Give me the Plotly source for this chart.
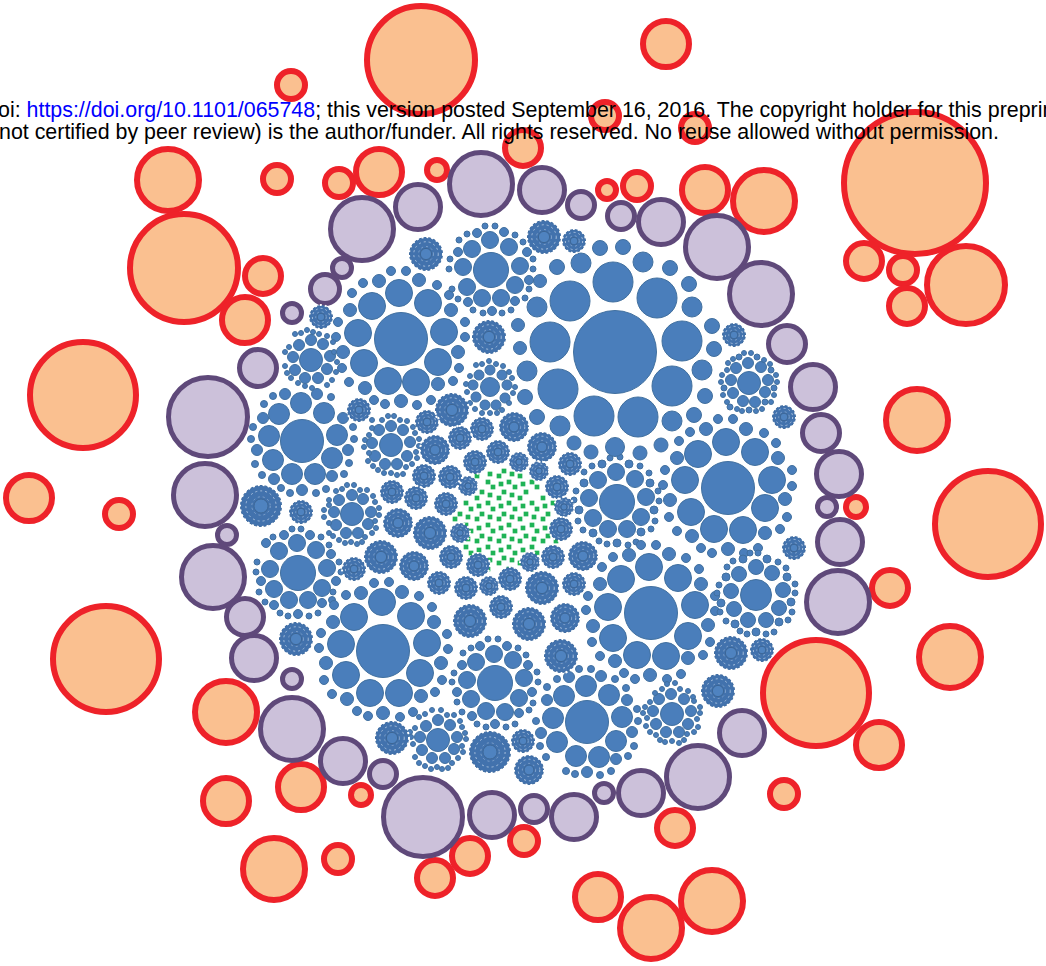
import plotly.graph_objects as go

# (x, y, outer radius), in image pixels
orange = [(421,60,57),(666,44,26),(291,85,17),(605,116,17),(695,128,17),(523,148,21),(168,180,34),(277,179,17),
 (339,183,17),(379,172,26),(437,170,13),(607,190,12),(637,186,17),(705,190,26),(764,201,34),(915,183,74),
 (864,261,21),(903,270,17),(966,285,42),(907,306,21),(263,276,21),(184,268,57),(245,320,26),(83,395,56),
 (917,420,34),(29,498,26),(119,514,17),(988,524,56),(856,507,13),(890,588,21),(106,659,56),(950,657,34),
 (816,693,56),(879,745,26),(784,794,17),(226,712,34),(301,787,26),(226,801,26),(361,795,13),(274,869,34),
 (338,859,17),(470,856,21),(435,878,21),(524,841,17),(675,828,21),(598,897,26),(651,928,34),(712,901,34)]
purple = [(362,229,34),(418,207,25),(481,184,34),(542,190,25),(581,205,16),(621,216,16),(661,222,25),(717,247,34),
 (761,294,34),(787,344,21),(813,387,25),(821,433,21),(839,474,25),(827,507,12),(840,542,25),(838,602,34),
 (742,733,25),(698,777,34),(641,793,25),(604,793,12),(574,817,25),(534,809,16),(492,815,25),(423,817,42),
 (383,774,16),(343,761,25),(292,729,34),(292,679,12),(254,658,25),(245,617,21),(213,577,34),(227,535,12),
 (205,495,34),(208,417,42),(258,368,21),(292,313,12),(325,289,17),(342,268,12)]

cluster_a = [(401,339,27),(358,333,14),(372,306,14),(399,293,14),(428,303,14),(444,332,14),(438,362,14),(416,382,14),(388,381,14),(364,363,14),
 (350,310,7),(352,293,5),(363,283,5),(379,281,7),(391,271,5),(406,271,5),(419,280,7),(437,285,5),(449,295,5),(451,310,7),(465,322,5),(465,337,5),
 (458,352,7),(459,368,5),(453,381,5),(438,384,7),(431,400,5),(417,405,5),(401,401,7),(385,404,5),(374,400,5),(365,388,7),(349,382,5),(342,368,5),
 (343,352,7),(336,337,5),(338,322,5)]
cluster_b = [(311,360,12),(299,345,6),(311,340,6),(323,344,6),(330,356,6),(327,369,6),(318,378,6),(305,378,6),(295,370,6),(293,357,6),
 (295,334,3),(301,333,3),(307,330,3),(313,332,3),(319,334,3),(327,336,3),(333,342,3),(334,352,3),(337,362,3),(336,372,3),(332,380,3),(327,385,3),
 (312,388,3),(305,386,3),(298,383,3),(291,378,3),(287,373,3),(285,366,3),(285,352,3),(289,347,3)]
cluster_c = [(491,270,18),(472,249,9),(490,240,9),(509,247,9),(520,266,9),(515,285,9),(501,298,9),(482,298,9),(467,287,9),(463,267,9),
 (458,252,5),(459,240,3.5),(467,234,3.5),(477,233,5),(485,226,3.5),(495,226,3.5),(504,232,5),(515,235,3.5),(523,242,3.5),(527,252,5),(533,259,3.5),
 (533,269,3.5),(529,280,5),(525,298,3.5),(515,301,5),(511,310,3.5),(502,313,3.5),(492,311,5),(483,313,3.5),(473,310,3.5),(468,302,5),(458,299,3.5),
 (452,289,3.5),(449,269,3.5),(450,259,3.5),(529,289,3.5)]
cluster_d = [(615,352,42),(550,342,20.5),(570,301,20.5),(613,282,20.5),(657,298,20.5),(682,341,20.5),(672,386,20.5),(638,417,20.5),(594,416,20.5),(558,389,20.5),
 (537,307,10.5),(540,281,7),(557,267,8),(581,263,10.5),(600,248,8),(623,247,8),(643,262,10.5),(670,268,8),(689,284,8),(692,307,10.5),(712,326,8),(714,349,8),
 (702,370,10.5),(705,396,8),(694,415,8),(672,421,10.5),(560,426,10.5),(537,417,8),(525,397,8),(527,371,10.5),(520,348,7),(518,325,7),(574,443,7.5)]
cluster_e = [(749,383,12),(736,368,6),(748,363,6),(761,367,6),(768,380,6),(765,392,6),(755,402,6),(743,401,6),(733,393,6),(731,380,6),
 (727,370,3),(728,363,3),(733,359,3),(739,357,3.5),(744,353,3),(751,353,3),(757,357,3.5),(764,360,3),(770,364,3),(771,370,3.5),(776,375,3),(777,382,3),
 (774,388,3.5),(774,395,3),(771,402,3),(765,402,3.5),(762,409,3),(756,411,3),(749,410,3.5),(742,411,3),(737,409,3),(730,407,3.5),(727,402,3),(723,395,3),
 (724,388,3.5),(721,382,3),(722,375,3)]
cluster_f = [(728,488,27),(698,454,14),(726,442,14),(755,452,14),(772,480,14),(765,508,14),(743,530,14),(714,529,14),(691,512,14),(685,480,14),
 (677,458,7),(679,441,5),(661,445,7.5),(665,470,5),(663,485,5),(670,500,7),(669,517,5),(677,531,5),(692,536,7),(701,548,5),(712,553,5),(728,549,7),
 (744,553,5),(758,548,5),(765,533,7),(780,529,5),(787,517,5),(785,499,7),(792,486,5),(792,470,5),(778,458,7),(776,443,5),(764,433,5),(746,429,7),
 (733,419,5),(718,419,5),(706,429,7),(690,432,5)]
cluster_g = [(617,502,18),(598,480,9),(616,472,9),(635,479,9),(646,497,9),(641,517,9),(627,529,9),(608,529,9),(593,518,9),(589,498,9),
 (584,483,4.5),(584,472,3.5),(592,466,3.5),(602,464,4.5),(610,458,3.5),(620,457,3.5),(629,464,4.5),(640,466,3.5),(649,473,3.5),(650,483,4.5),(658,491,3.5),
 (659,501,3.5),(654,510,4.5),(655,521,3.5),(651,529,3.5),(641,532,4.5),(636,542,3.5),(628,545,3.5),(617,543,4.5),(607,544,3.5),(599,541,3.5),(593,533,4.5),
 (583,530,3.5),(578,521,3.5),(579,510,4.5),(576,491,3.5),(574,500,3.5),(615,447,10),(591,452,7.5),(640,453,7.5)]
cluster_h = [(298,573,18),(279,551,9),(297,543,9),(316,550,9),(327,568,9),(322,588,9),(308,600,9),(289,600,9),(274,589,9),(270,569,9),
 (266,543,5),(273,537,3.5),(284,535,5),(292,529,3.5),(301,529,3.5),(310,535,5),(321,537,3.5),(329,545,3.5),(331,554,5),(339,562,3.5),(341,572,3.5),(336,581,5),
 (333,592,3.5),(332,600,4),(322,603,5),(318,613,3.5),(309,616,3.5),(298,614,5),(288,616,3.5),(280,613,3.5),(274,605,5),(265,602,3.5),(259,592,3.5),(261,581,5),
 (256,572,3.5),(257,562,3.5)]
cluster_i = [(383,651,27),(354,617,14),(382,602,14),(411,616,14),(427,643,14),(420,673,14),(399,693,14),(370,693,14),(346,675,14),(341,644,14),
 (333,622,7),(346,595,5),(361,593,7),(374,583,5),(389,582,5),(402,592,7),(419,596,5),(432,607,5),(434,622,7),(447,634,5),(448,649,5),(441,663,7),(442,680,5),
 (435,692,5),(421,696,7),(413,712,5),(400,717,5),(383,713,7),(368,716,5),(357,711,5),(347,699,7),(332,694,5),(324,680,5),(326,663,7),(319,648,5),(321,633,5),(334,605,5)]
cluster_j = [(302,441,22),(301,403,11),(324,413,11),(337,435,11),(332,458,11),(315,474,11),(292,474,11),(273,460,11),(269,436,11),(279,414,11),
 (263,418,6),(264,404,4),(273,396,4),(285,394,6),(317,394,6),(331,397,4),(343,418,6),(353,427,4),(354,439,4),(348,450,6),(349,463,4),(344,474,4),(332,476,6),
 (326,489,4),(316,493,4),(302,490,6),(290,493,4),(281,488,4),(274,479,6),(262,475,4),(255,464,4),(257,450,6),(251,439,4),(253,427,4)]
cluster_k = [(391,445,12),(391,426,6),(403,430,6),(410,442,6),(407,456,6),(397,464,6),(385,464,6),(375,456,6),(372,443,6),(379,430,6),
 (372,428,3),(372,420,3),(382,420,3),(388,416,3),(394,416,3),(400,420,3),(407,421,3),(413,427,3),(415,433,3),(419,439,3),(419,446,3),(416,452,3),(417,458,3),
 (412,464,3),(406,467,3),(403,474,3),(397,475,3),(391,473,3),(384,473,3),(378,470,3),(373,466,3),(368,461,3),(369,453,3),(364,447,3),(365,440,3),(369,435,3)]
cluster_l = [(352,514,12),(339,500,6),(352,495,6),(363,499,6),(371,512,6),(368,524,6),(358,533,6),(346,533,6),(336,525,6),(334,512,6),
 (329,500,3),(336,491,3),(342,489,3),(347,485,3),(354,485,3),(360,490,3),(367,490,3),(373,496,3),(375,502,3),(379,508,3),(379,515,3),(375,521,3),(376,528,3),
 (372,533,3),(365,537,3),(362,542,3),(357,544,3),(351,542,3),(345,543,3),(339,540,3),(333,536,3),(329,533,3),(329,523,3),(324,517,3),(324,510,3),(329,505,3)]
cluster_n = [(438,740,12),(426,726,6),(438,720,6),(450,725,6),(457,737,6),(454,749,6),(445,758,6),(432,758,6),(422,750,6),(420,737,6),
 (415,728,3),(419,717,3),(425,714,3),(432,710,3),(441,710,3),(447,715,3),(454,715,3),(460,721,3),(462,727,3),(465,733,3),(466,739,3),(462,746,3),(463,752,3),
 (458,758,3),(452,763,3),(448,768,3),(442,769,3),(437,767,3),(431,769,3),(425,766,3),(419,763,3),(415,757,3),(413,744,3),(411,737,3),(410,732,3)]
cluster_o = [(495,683,18),(476,662,9),(494,654,9),(513,660,9),(524,678,9),(519,698,9),(505,712,9),(486,711,9),(471,699,9),(467,680,9),
 (462,665,5),(463,653,3.5),(471,648,3.5),(480,646,5),(488,639,3.5),(498,639,3.5),(507,646,5),(518,648,3.5),(526,655,3.5),(528,665,5),(537,672,3.5),(532,692,5),
 (538,682,3.5),(533,703,3.5),(529,710,3.5),(519,713,5),(515,724,3.5),(506,727,3.5),(495,724,5),(486,727,3.5),(477,724,3.5),(472,716,5),(462,712,3.5),(457,702,3.5),
 (457,692,5),(452,682,3.5),(454,673,3.5)]
cluster_p = [(587,722,22),(553,718,11),(564,696,11),(586,686,11),(609,695,11),(622,717,11),(616,741,11),(599,757,11),(576,756,11),(557,742,11),
 (547,687,4),(557,679,4),(569,677,6),(579,669,4),(591,669,4),(601,676,6),(615,679,4),(626,688,4),(627,700,6),(637,709,4),(638,721,4),(632,732,6),(634,746,4),
 (628,756,4),(616,759,6),(611,771,4),(600,775,4),(587,772,6),(575,774,4),(566,771,4),(546,757,4),(540,746,4),(541,733,6),(536,721,4),(547,700,6)]
cluster_q = [(651,613,27),(608,607,14),(621,579,14),(649,567,14),(678,578,14),(695,605,14),(688,636,14),(666,656,14),(637,655,14),(613,638,14),
 (600,584,7),(602,567,5),(613,557,5),(629,555,7),(641,545,5),(656,545,5),(669,554,7),(686,558,5),(699,569,5),(701,584,7),(715,596,5),(715,611,5),(708,625,7),
 (710,642,5),(703,655,5),(688,658,7),(681,674,5),(667,679,5),(650,675,7),(635,679,5),(624,673,5),(615,661,7),(600,656,5),(592,642,5),(593,626,7),(586,610,5),(588,596,5)]
cluster_r = [(756,595,16),(739,574,8),(756,567,8),(772,573,8),(783,590,8),(779,608,8),(766,620,8),(748,620,8),(734,609,8),(731,591,8),
 (726,577,4.5),(727,567,3.5),(733,561,3.5),(743,559,4.5),(750,553,3.5),(758,553,3.5),(767,559,4.5),(778,562,3.5),(786,568,3.5),(787,577,4.5),(795,584,3.5),
 (795,593,3.5),(791,602,4.5),(792,612,3.5),(788,620,3.5),(779,622,4.5),(774,632,3.5),(766,634,3.5),(756,632,4.5),(747,634,3.5),(740,631,3.5),(735,624,4.5),
 (726,621,3.5),(721,603,4.5),(720,612,3.5),(719,585,3.5),(717,593,3.5)]
cluster_s = [(672,714,12),(659,699,6),(671,694,6),(684,699,6),(691,711,6),(688,724,6),(679,732,6),(666,732,6),(656,724,6),(653,711,6),
 (650,702,3),(655,693,3),(662,689,3),(667,684,3),(675,683,3),(680,689,3),(688,691,3),(693,697,3),(694,701,3),(700,707,3),(700,713,3),(697,719,3),(698,727,3),
 (694,732,3),(687,734,3),(684,740,3),(679,743,3),(672,741,3),(665,742,3),(660,740,3),(656,735,3),(650,732,3),(646,726,3),(647,718,3),(643,713,3),(645,707,3)]
cluster_u = [(490,387,10),(479,375,5.5),(490,370,5.5),(502,375,5.5),(507,385,5.5),(505,398,5.5),(496,405,5.5),(485,405,5.5),(476,397,5.5),(473,385,5.5),
 (470,376,3),(476,365,3),(482,364,3),(489,361,3),(496,364,3),(503,366,3),(509,372,3),(512,378,3),(515,387,3),(513,393,3),(509,403,3),(502,410,3),(497,413,3),
 (490,413,3),(482,413,3),(475,409,3),(470,403,3),(467,392,3),(466,384,3)]

# smallest families, too fine to separate dot by dot: (x, y, outer radius)
fine_families = [(426,254,17),(544,237,17),(574,241,12),(321,317,12),(489,337,17),(734,335,12),(359,410,12),(427,422,12),(452,410,17),(482,429,12),
 (514,427,15),(460,438,12),(435,450,15),(424,476,12),(450,477,12),(498,452,12),(475,462,12),(519,462,10),(468,486,10),(542,447,15),(570,464,12),(539,471,10),
 (557,487,12),(564,507,10),(561,529,12),(784,417,12),(392,492,12),(416,498,12),(446,504,12),(261,506,21),(301,512,12),(398,523,15),(430,533,17),(460,533,10),
 (381,557,17),(414,566,15),(451,557,12),(354,569,12),(478,565,12),(530,562,10),(510,579,12),(439,583,12),(466,588,12),(489,586,10),(542,588,17),(501,607,12),
 (470,621,17),(529,624,17),(296,639,17),(392,738,17),(490,752,21),(523,741,12),(529,770,15),(553,557,12),(583,556,15),(574,584,12),(565,618,15),(561,656,17),
 (731,653,17),(762,650,12),(794,548,12),(718,691,17)]

# green squares, row by row
green_rows = {471:[504],474:[490,512],476:[477,499,520],482:[488,509,532],484:[501,523],487:[493,515,537],
 492:[482,504,526],495:[490,512],498:[477,499,520,543],503:[466,488,509,532,553],506:[479,501,523,545],509:[471,493,515,537],
 514:[460,482,504,526,548],517:[468,490,512,534],519:[455,477,499,520,543],525:[466,488,509,532,553],528:[479,501,523,545],531:[471,493,515,537],
 536:[460,482,504,526,548],539:[468,490,512,534],541:[477,499,520,543,556],547:[466,488,509,532],550:[479,501,523],553:[471,493,515,537],
 558:[482,504,526],560:[490,512],563:[477,499,520],569:[488,509,532]}

line_one_link = "https://doi.org/10.1101/065748"
line_one_before = "oi: "
line_one_after = "; this version posted September 16, 2016. The copyright holder for this preprint"
line_two = "not certified by peer review) is the author/funder. All rights reserved. No reuse allowed without permission."

ORANGE_LW, PURPLE_LW, BLUE_LW = 6, 5, 1

def circles(rows, fill, edge, lw):
    return go.Scatter(x=[r[0] for r in rows], y=[r[1] for r in rows], mode="markers", hoverinfo="skip",
                      marker=dict(size=[max(2*r[2]-lw, 1) for r in rows], color=fill, line=dict(color=edge, width=lw), opacity=1))

blue = (cluster_a+cluster_b+cluster_c+cluster_d+cluster_e+cluster_f+cluster_g+cluster_h+cluster_i+cluster_j+
        cluster_k+cluster_l+cluster_n+cluster_o+cluster_p+cluster_q+cluster_r+cluster_s+cluster_u)

fig = go.Figure()
gx = [x for y, xs in green_rows.items() for x in xs]
gy = [y for y, xs in green_rows.items() for x in xs]
fig.add_trace(go.Scatter(x=gx, y=gy, mode="markers", hoverinfo="skip",
                         marker=dict(symbol="square", size=4.7, color="#1fb356", line=dict(width=0))))
fig.add_trace(circles(orange, "#fac090", "#ee2229", ORANGE_LW))
fig.add_trace(circles(purple, "#ccc1da", "#5f497a", PURPLE_LW))
fig.add_trace(circles(fine_families, "#4272ad", "#3d6a9f", 1))
fig.add_trace(circles(blue, "#4a7ebb", "#41709f", BLUE_LW))
fig.add_trace(circles([(x, y, r*0.36) for x, y, r in fine_families], "#4f83c0", "#3c6696", 1))

shapes = []
for x, y, r in fine_families:
    for k, w, c in ((1.0, 2.0, "white"), (0.72, 1.0, "#a9c1de"), (0.44, 0.8, "#8fadd2")):
        shapes.append(dict(type="circle", xref="x", yref="y", x0=x-r*k, x1=x+r*k, y0=y-r*k, y1=y+r*k, layer="above",
                           line=dict(color=c, width=w, dash="2px,3px")))

F = dict(family="Liberation Sans, Arial, sans-serif", size=21.4, color="black")
fig.update_layout(
    width=1046, height=966, margin=dict(l=0, r=0, t=0, b=0), showlegend=False,
    paper_bgcolor="white", plot_bgcolor="white", shapes=shapes,
    xaxis=dict(range=[0, 1046], visible=False, fixedrange=True),
    yaxis=dict(range=[966, 0], visible=False, fixedrange=True),
    annotations=[
        dict(x=0, y=110, xref="x", yref="y", xanchor="left", yanchor="middle", xshift=-4, showarrow=False, font=F, align="left",
             text=line_one_before+'<span style="color:#0000ff">'+line_one_link+'</span>'+line_one_after),
        dict(x=0, y=132, xref="x", yref="y", xanchor="left", yanchor="middle", xshift=-3, showarrow=False, font=F, align="left",
             text=line_two),
    ])
fig.write_html("out.html", config=dict(displayModeBar=False), post_script="document.body.style.margin='0';")
